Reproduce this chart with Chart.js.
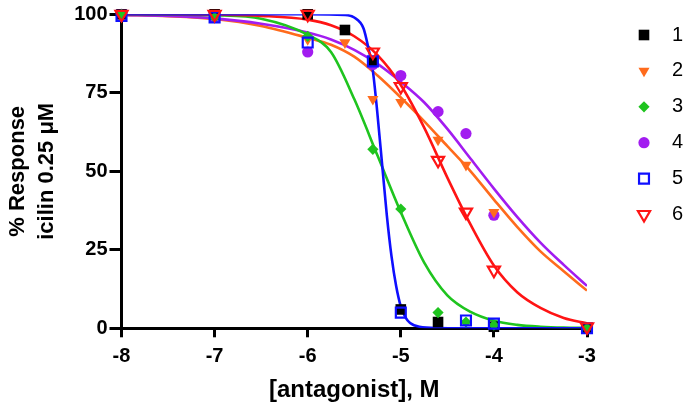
<!DOCTYPE html>
<html>
<head>
<meta charset="utf-8">
<title>Antagonist concentration-response</title>
<script src="https://cdn.jsdelivr.net/npm/chart.js@4.4.1/dist/chart.umd.min.js"></script>
<style>
  html, body { margin: 0; padding: 0; background: #fff; }
  #wrap { position: relative; width: 692px; height: 411px; }
</style>
</head>
<body>
<div id="wrap"><canvas id="doseChart"></canvas></div>
<script>
// DATA
const seriesNames  = ['1', '2', '3', '4', '5', '6'];
const seriesColors = ['#000000', '#ff6b1c', '#1fc41f', '#a21cf0', '#0f0fff', '#ff1414'];

const xTicks = [-8, -7, -6, -5, -4, -3];
const yTicks = [0, 25, 50, 75, 100];

// measured points, log[antagonist] vs % response
const pts1X = [-8, -7, -6, -5.6, -5.3, -5, -4.6, -4, -3];
const pts1Y = [100, 100, 100, 95, 85, 6, 2, 0.5, 0];
const pts2X = [-8, -7, -6, -5.6, -5.3, -5, -4.6, -4.3, -4];
const pts2Y = [100, 99, 92, 91, 73, 72, 60, 52, 37];
const pts3X = [-8, -7, -6, -5.3, -5, -4.6, -4.3, -4, -3];
const pts3Y = [100, 99, 93, 57, 38, 5, 2, 1, 0];
const pts4X = [-8, -7, -6, -5.3, -5, -4.6, -4.3, -4];
const pts4Y = [100, 99, 88, 84, 80.5, 69, 62, 36];
const pts5X = [-8, -7, -6, -5.3, -5, -4.3, -4, -3];
const pts5Y = [99.5, 99, 91, 85, 5, 2.5, 1.5, 0];
const pts6X = [-8, -7, -6, -5.3, -5, -4.6, -4.3, -4, -3];
const pts6Y = [100, 100, 100, 88, 77, 53.5, 37, 18.5, 0.5];

// fitted curves
const fitX  = [-8, -7.5, -7, -6.5, -6, -5.75, -5.5, -5.25, -5, -4.75, -4.5, -4.25, -4, -3.75, -3.5, -3.25, -3];
const fit2Y = [99.8, 99.4, 98.5, 96.3, 92.5, 90.3, 86.5, 80.5, 73.5, 66, 58, 50, 41, 32.3, 24.5, 18.2, 12];
const fit3Y = [100, 99.9, 99.7, 98.6, 93.5, 88, 73, 55, 37, 21, 10.5, 5.2, 2.4, 1.1, 0.5, 0.2, 0.1];
const fit4Y = [99.8, 99.5, 98.7, 97, 94.2, 92, 88.7, 84.2, 78.5, 72, 63.5, 54, 44.5, 35.5, 27.3, 20.2, 13.5];
const fit6Y = [100, 100, 99.9, 99.5, 98.3, 96.5, 93, 87, 77.5, 64, 48, 33, 20, 11.5, 6.5, 3.3, 1.6];
const fit5X = [-8, -7, -6, -5.6, -5.5, -5.4, -5.35, -5.3, -5.25, -5.2, -5.15, -5.1, -5.05, -5, -4.95, -4.9, -4.8, -4.6, -4, -3];
const fit5Y = [100, 100, 100, 99.8, 99, 95.5, 89.5, 82, 68, 52, 36, 23, 13.5, 7, 3.5, 1.7, 0.5, 0.1, 0, 0];

// marker looks per series
const markers = [
  { style: 'rect',     rot: 0,   r: 7.5, open: false },
  { style: 'triangle', rot: 180, r: 6.4, open: false },
  { style: 'rectRot',  rot: 0,   r: 5.6, open: false },
  { style: 'circle',   rot: 0,   r: 5.6, open: false },
  { style: 'rect',     rot: 0,   r: 7,   open: true  },
  { style: 'triangle', rot: 180, r: 7,   open: true  }
];

const toXY = (xs, ys) => xs.map((x, k) => ({ x, y: ys[k] }));

const pointSets = [[pts1X, pts1Y], [pts2X, pts2Y], [pts3X, pts3Y], [pts4X, pts4Y], [pts5X, pts5Y], [pts6X, pts6Y]];
// which series, curve data, draw order (higher = further back)
const curveSets = [
  { s: 1, xs: fitX,  ys: fit2Y, order: 20 },
  { s: 3, xs: fitX,  ys: fit4Y, order: 19 },
  { s: 2, xs: fitX,  ys: fit3Y, order: 18 },
  { s: 5, xs: fitX,  ys: fit6Y, order: 17 },
  { s: 4, xs: fit5X, ys: fit5Y, order: 16 }
];
const pointOrder = [5, 4, 3, 6, 2, 1];

const datasets = [];
curveSets.forEach(c => {
  datasets.push({
    label: 'fit ' + seriesNames[c.s],
    data: toXY(c.xs, c.ys),
    showLine: true,
    borderColor: seriesColors[c.s],
    borderWidth: 2.6,
    pointRadius: 0,
    pointHoverRadius: 0,
    cubicInterpolationMode: 'monotone',
    fill: false,
    order: c.order
  });
});
pointSets.forEach(([xs, ys], i) => {
  const m = markers[i];
  datasets.push({
    label: seriesNames[i],
    data: toXY(xs, ys),
    showLine: false,
    pointStyle: m.style,
    pointRotation: m.rot,
    pointRadius: m.r,
    pointHoverRadius: m.r,
    pointBackgroundColor: m.open ? 'rgba(0,0,0,0)' : seriesColors[i],
    pointBorderColor: seriesColors[i],
    pointBorderWidth: m.open ? 2.2 : 0,
    clip: false,
    order: pointOrder[i]
  });
});

// LEGEND drawn at the right like the original figure
const sideLegend = {
  id: 'sideLegend',
  afterDraw(chart) {
    const ctx = chart.ctx;
    ctx.save();
    ctx.font = '20px "Liberation Sans", Arial, sans-serif';
    ctx.textBaseline = 'middle';
    ctx.textAlign = 'left';
    seriesNames.forEach((name, i) => {
      const y = 35 + i * 35.9;
      const m = markers[i];
      ctx.fillStyle = m.open ? 'rgba(0,0,0,0)' : seriesColors[i];
      ctx.strokeStyle = seriesColors[i];
      ctx.lineWidth = m.open ? 2.2 : 0;
      Chart.helpers.drawPoint(ctx, { pointStyle: m.style, rotation: m.rot, radius: m.r, borderWidth: m.open ? 2.2 : 0 }, 644, y);
      ctx.fillStyle = '#000';
      ctx.fillText(name, 672, y);
    });
    ctx.restore();
  }
};

Chart.defaults.font.family = '"Liberation Sans", Arial, Helvetica, sans-serif';
Chart.defaults.color = '#000';

new Chart(document.getElementById('doseChart'), {
  type: 'scatter',
  data: { datasets },
  options: {
    responsive: true, maintainAspectRatio: false,
    animation: false,
    layout: { padding: { top: 14.3, right: 105, bottom: 0, left: 0 } },
    plugins: { legend: { display: false }, tooltip: { enabled: false } },
    scales: {
      x: {
        type: 'linear', min: -8, max: -3,
        afterBuildTicks: s => { s.ticks = xTicks.map(v => ({ value: v })); },
        afterFit: s => { s.height = 82.7; },
        border: { display: true, color: '#000', width: 3 },
        grid: { drawOnChartArea: false, drawTicks: true, tickLength: 9, tickWidth: 3, tickColor: '#000' },
        ticks: { autoSkip: false, maxRotation: 0, color: '#000', padding: 7, font: { size: 20, weight: 'bold' } },
        title: { display: true, text: '[antagonist], M', color: '#000', font: { size: 24, weight: 'bold' }, padding: { top: 0, bottom: 6 } }
      },
      y: {
        type: 'linear', min: 0, max: 100,
        afterBuildTicks: s => { s.ticks = yTicks.map(v => ({ value: v })); },
        afterFit: s => { s.width = 121.5; },
        border: { display: true, color: '#000', width: 3 },
        grid: { drawOnChartArea: false, drawTicks: true, tickLength: 12, tickWidth: 3, tickColor: '#000' },
        ticks: { autoSkip: false, color: '#000', padding: 2, font: { size: 20, weight: 'bold' } },
        title: { display: true, text: ['% Response', 'icilin 0.25 \u03bcM'], color: '#000', font: { size: 22, weight: 'bold', lineHeight: 1.32 }, padding: { top: 3, bottom: 0 } }
      }
    }
  },
  plugins: [sideLegend]
});
</script>
</body>
</html>
